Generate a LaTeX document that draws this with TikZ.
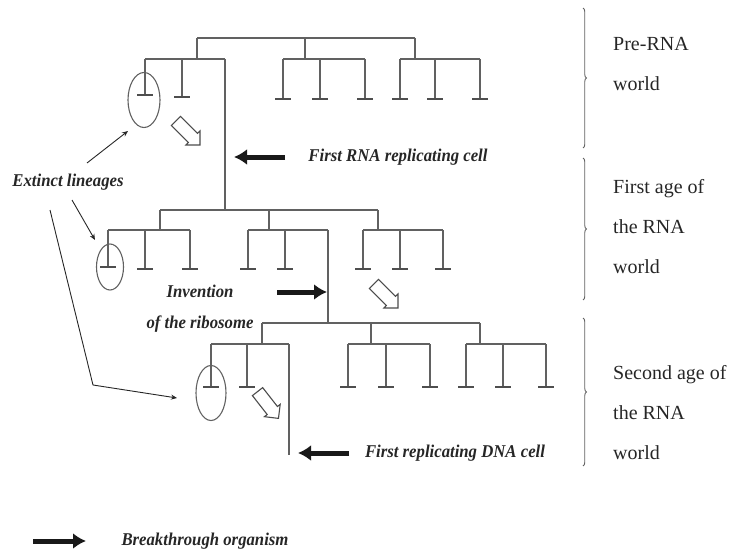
\documentclass[tikz,border=0pt]{standalone}
\usepackage{fontspec}
\setmainfont{Liberation Serif}
\newfontfamily\lblfont[FakeStretch=0.93]{Liberation Serif}
\usetikzlibrary{arrows.meta,shapes.geometric,decorations.pathreplacing}
\definecolor{linegray}{gray}{0.38}
\definecolor{txtgray}{gray}{0.15}
\begin{document}
\begin{tikzpicture}[x=1pt,y=-1pt,
  br/.style={draw=linegray, line width=1.1pt},
  teeline/.style={draw=linegray!80!black, line width=1.6pt},
  lbl/.style={font=\lblfont\bfseries\itshape\fontsize{18}{21}\selectfont, text=txtgray, inner sep=0pt},
  era/.style={font=\fontsize{20}{40}\selectfont, text=txtgray, align=left, inner sep=0pt, anchor=west},
  bigarrow/.style={draw=black!90, line width=5pt, -{Latex[length=13pt,width=16pt]}},
  thinarrow/.style={draw=black!85, line width=0.9pt, -{Stealth[length=6pt,width=5pt]}},
  hollowline/.style={draw=black!70, line width=1.1pt, fill=white, line join=miter},
  ell/.style={ellipse, draw=linegray, line width=1.1pt, inner sep=0pt},
  brace/.style={draw=linegray, line width=0.9pt, decorate, decoration={brace, amplitude=3.5pt}},
  hollowarrow/.pic={\draw[hollowline] (-17,-6.5) -- (7,-6.5) -- (7,-10) -- (17,0) -- (7,10) -- (7,6.5) -- (-17,6.5) -- cycle;}
]
\useasboundingbox (0,0) rectangle (746,559);
% ---------- top tree ----------
\draw[br] (197,38) -- (415,38);
\foreach \x in {197,305,415} \draw[br] (\x,38) -- (\x,59);
\draw[br] (145,59) -- (225,59);
\draw[br] (283,59) -- (365,59);
\draw[br] (400,59) -- (480,59);
\foreach \x/\y in {145/95,182/97,283/99,320/99,365/99,400/99,435/99,480/99}
  {\draw[br] (\x,59) -- (\x,\y); \draw[teeline] (\x-8,\y) -- (\x+8,\y);}
\draw[br] (225,59) -- (225,210);
% ---------- middle tree ----------
\draw[br] (160,210) -- (378,210);
\foreach \x in {160,269,378} \draw[br] (\x,210) -- (\x,230);
\draw[br] (108,230) -- (190,230);
\draw[br] (248,230) -- (328,230);
\draw[br] (363,230) -- (443,230);
\foreach \x/\y in {108/267,145/269,190/269,248/269,285/269,363/269,400/269,443/269}
  {\draw[br] (\x,230) -- (\x,\y); \draw[teeline] (\x-8,\y) -- (\x+8,\y);}
\draw[br] (328,230) -- (328,323);
% ---------- bottom tree ----------
\draw[br] (262,323) -- (480,323);
\foreach \x in {262,371,480} \draw[br] (\x,323) -- (\x,344);
\draw[br] (211,344) -- (289,344);
\draw[br] (348,344) -- (430,344);
\draw[br] (466,344) -- (546,344);
\foreach \x/\y in {211/387,247/387,348/387,386/387,430/387,466/387,503/387,546/387}
  {\draw[br] (\x,344) -- (\x,\y); \draw[teeline] (\x-8,\y) -- (\x+8,\y);}
\draw[br] (289,344) -- (289,455);
% ---------- extinct ellipses ----------
\node[ell, minimum width=32pt, minimum height=55pt] (e1) at (144,100) {};
\node[ell, minimum width=27pt, minimum height=46pt] (e2) at (110,267) {};
\node[ell, minimum width=30pt, minimum height=55pt] (e3) at (211,393) {};
% ---------- hollow arrows ----------
\pic[rotate=-45] at (188,133) {hollowarrow};
\pic[rotate=-45] at (386,296) {hollowarrow};
\pic[rotate=-52] at (268,405) {hollowarrow};
% ---------- labels ----------
\node[lbl] (rna) at (398,157) {First RNA replicating cell};
\node[lbl, align=center, font=\lblfont\bfseries\itshape\fontsize{18}{31}\selectfont] (inv) at (200,309) {Invention\\of the ribosome};
\node[lbl] (dna) at (455,453) {First replicating DNA cell};
\node[lbl] (ext) at (68,182) {Extinct lineages};
\node[lbl] (leg) at (205,541) {Breakthrough organism};
% ---------- big black arrows ----------
\coordinate (t1) at (285,157); \coordinate (a1) at (234,157);
\coordinate (t2) at (277,292); \coordinate (a2) at (327,292);
\coordinate (t3) at (349,453); \coordinate (a3) at (298,453);
\coordinate (t4) at (33,541);  \coordinate (a4) at (86,541);
\draw[bigarrow] (t1) -- (a1);
\draw[bigarrow] (t2) -- (a2);
\draw[bigarrow] (t3) -- (a3);
\draw[bigarrow] (t4) -- (a4);
% ---------- extinct arrows ----------
\coordinate (x1) at (87,163);
\coordinate (x2) at (72,200);
\coordinate (x3) at (50,210);
\coordinate (k3) at (93,385);
\draw[thinarrow] (x1) -- (128,131);
\draw[thinarrow] (x2) -- (95,240);
\draw[thinarrow] (x3) -- (k3) -- (177,398);
% ---------- braces and eras ----------
\draw[brace] (583,8) -- (583,148);
\draw[brace] (583,158) -- (583,300);
\draw[brace] (583,318) -- (583,466);
\node[era] (pre) at (613,64) {Pre-RNA\\world};
\node[era] (first) at (613,227) {First age of\\the RNA\\world};
\node[era] (second) at (613,413) {Second age of\\the RNA\\world};
\end{tikzpicture}
\end{document}
